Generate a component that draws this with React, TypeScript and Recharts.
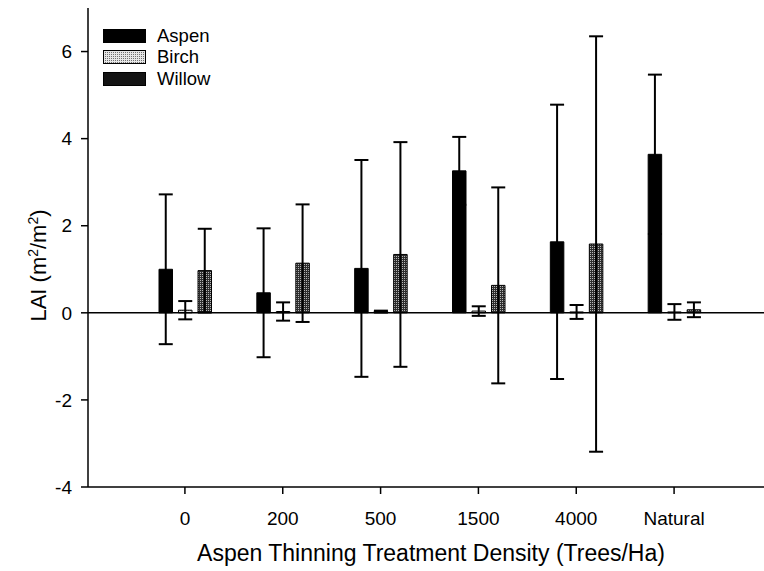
import { Bar, BarChart, ErrorBar, Legend, ReferenceLine, XAxis, YAxis } from 'recharts';

// LAI by thinning treatment, means with +/- error
const categories = ['0', '200', '500', '1500', '4000', 'Natural'];
const aspen = [1.0, 0.46, 1.02, 3.26, 1.63, 3.64];
const aspenErr = [1.72, 1.48, 2.49, 0.78, 3.15, 1.83];
const birch = [0.06, 0.03, 0.03, 0.04, 0.02, 0.02];
const birchErr = [0.21, 0.21, 0.02, 0.11, 0.16, 0.18];
const willow = [0.97, 1.14, 1.34, 0.63, 1.58, 0.07];
const willowErr = [0.96, 1.35, 2.58, 2.25, 4.77, 0.17];
const yTicks = [-4, -2, 0, 2, 4, 6];

const data = categories.map((name, i) => ({
  name,
  aspen: aspen[i],
  aspenErr: aspenErr[i],
  birch: birch[i],
  birchErr: birchErr[i],
  willow: willow[i],
  willowErr: willowErr[i],
}));

const FONT = '"Liberation Sans", Arial, Helvetica, sans-serif';

const legendRows = [
  { label: 'Aspen', fill: '#000' },
  { label: 'Birch', fill: 'url(#birchFill)' },
  { label: 'Willow', fill: '#141414' },
];

function LegendBox() {
  return (
    <div style={{ fontFamily: FONT, fontSize: 18.5, color: '#000' }}>
      {legendRows.map((r) => (
        <div key={r.label} style={{ display: 'flex', alignItems: 'center', height: 21.5 }}>
          <svg width={43} height={14}>
            <rect x={0.5} y={0.5} width={42} height={13} fill={r.fill} stroke="#000" />
          </svg>
          <span style={{ marginLeft: 11 }}>{r.label}</span>
        </div>
      ))}
    </div>
  );
}

function YTitle({ viewBox }) {
  const cy = viewBox.y + viewBox.height / 2 + 18;
  return (
    <text
      transform={`translate(46,${cy}) rotate(-90)`}
      textAnchor="middle"
      fontSize={22}
      fontFamily={FONT}
      fill="#000"
    >
      LAI (m<tspan dy={-8} fontSize={14}>2</tspan>
      <tspan dy={8}>/m</tspan>
      <tspan dy={-8} fontSize={14}>2</tspan>
      <tspan dy={8}>)</tspan>
    </text>
  );
}

export default function App() {
  const axisStroke = { stroke: '#000', strokeWidth: 1.5 };
  const tickStyle = { fill: '#000', fontSize: 19, fontFamily: FONT };

  return (
    <div style={{ position: 'absolute', left: 0, top: 0, width: 764, height: 571, background: '#fff' }}>
      <BarChart
        width={764}
        height={571}
        data={data}
        margin={{ top: 8, right: -10, bottom: 0, left: 0 }}
        barSize={13.5}
        barGap={6}
      >
        <defs>
          <pattern id="birchFill" width={2} height={2} patternUnits="userSpaceOnUse">
            <rect width={2} height={2} fill="#e6e6e6" />
            <rect width={1} height={1} fill="#707070" />
          </pattern>
          <pattern id="willowFill" width={2} height={2} patternUnits="userSpaceOnUse">
            <rect width={2} height={2} fill="#2e2e2e" />
            <rect width={1} height={1} fill="#b8b8b8" />
          </pattern>
        </defs>
        <XAxis
          dataKey="name"
          height={84}
          padding={{ left: 48, right: 51 }}
          tickSize={7}
          tickMargin={18}
          tick={tickStyle}
          axisLine={axisStroke}
          tickLine={axisStroke}
          label={{
            value: 'Aspen Thinning Treatment Density (Trees/Ha)',
            position: 'insideBottom',
            offset: 10,
            fill: '#000',
            fontSize: 23,
            fontFamily: FONT,
          }}
        />
        <XAxis
          xAxisId="top"
          orientation="top"
          dataKey="name"
          height={0}
          tick={false}
          tickLine={false}
          axisLine={axisStroke}
        />
        <YAxis
          type="number"
          width={88}
          domain={[-4, 7]}
          ticks={yTicks}
          allowDataOverflow
          tickSize={7}
          tickMargin={9}
          tick={tickStyle}
          axisLine={axisStroke}
          tickLine={axisStroke}
          label={<YTitle />}
        />
        <ReferenceLine y={0} stroke="#000" strokeWidth={1.5} />
        <Legend
          layout="vertical"
          align="center"
          verticalAlign="middle"
          wrapperStyle={{ left: 103, top: 25, width: 140 }}
          content={<LegendBox />}
        />
        <Bar dataKey="aspen" fill="#000" stroke="#000" isAnimationActive={false}>
          <ErrorBar dataKey="aspenErr" width={7} stroke="#000" strokeWidth={2} direction="y" />
        </Bar>
        <Bar dataKey="birch" fill="url(#birchFill)" stroke="#000" isAnimationActive={false}>
          <ErrorBar dataKey="birchErr" width={7} stroke="#000" strokeWidth={2} direction="y" />
        </Bar>
        <Bar dataKey="willow" fill="url(#willowFill)" stroke="#000" isAnimationActive={false}>
          <ErrorBar dataKey="willowErr" width={7} stroke="#000" strokeWidth={2} direction="y" />
        </Bar>
      </BarChart>
    </div>
  );
}
